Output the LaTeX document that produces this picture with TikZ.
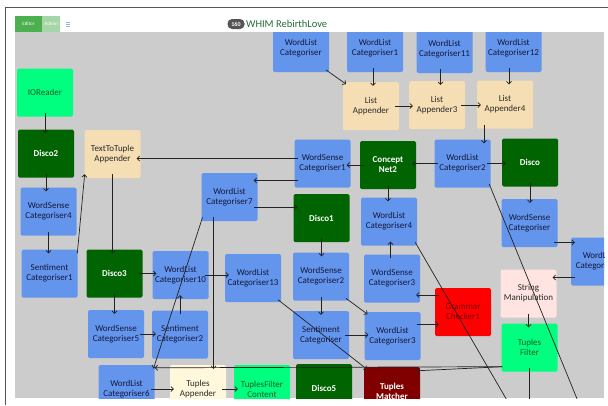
\documentclass[tikz,border=0pt]{standalone}
\usepackage{fontspec}
\setmainfont{Carlito}
\usetikzlibrary{arrows.meta}
\definecolor{canvas}{HTML}{CCCCCC}
\definecolor{wlblue}{HTML}{6495ED}
\definecolor{navytext}{HTML}{14183A}
\definecolor{discogreen}{HTML}{006400}
\definecolor{wheatfill}{HTML}{F5DEB3}
\definecolor{silkfill}{HTML}{FFF8DC}
\definecolor{rosefill}{HTML}{FFE4E1}
\definecolor{springfill}{HTML}{00FF7F}
\definecolor{springtext}{HTML}{145A28}
\definecolor{grammarred}{HTML}{FF0000}
\definecolor{grammartext}{HTML}{7A0000}
\definecolor{matchermaroon}{HTML}{800000}
\definecolor{darktext}{HTML}{2A2A2A}
\definecolor{linecol}{HTML}{222222}
\definecolor{framecol}{HTML}{555555}
\definecolor{editgreen}{HTML}{4CAF50}
\definecolor{admingreen}{HTML}{A5D6A7}
\definecolor{menublue}{HTML}{8DB6E3}
\definecolor{badgegray}{HTML}{555555}
\definecolor{titlegreen}{HTML}{236B36}

\begin{document}
\begin{tikzpicture}[x=1pt,y=-1pt,
  >={Straight Barb[length=2.5pt,width=5pt]},
  box/.style={rectangle,rounded corners=1.5pt,minimum width=56pt,minimum height=48pt,
    align=center,inner sep=1pt,font=\fontsize{9}{10}\selectfont},
  catbox/.style={box,fill=wlblue,text=navytext},
  discobox/.style={box,fill=discogreen,text=white,font=\bfseries\fontsize{9}{10}\selectfont},
  appbox/.style={box,fill=wheatfill,text=darktext},
  filtbox/.style={box,fill=springfill,text=springtext},
  link/.style={->,draw=linecol,line width=0.7pt,shorten <=-4pt,shorten >=-4pt},
  tab/.style={minimum height=16pt,inner sep=0pt,text=white,font=\fontsize{5}{5}\selectfont}]
  \useasboundingbox (0,0) rectangle (608,405);
  % page frame and header bar
  \draw[framecol,line width=1pt] (5.5,405) -- (5.5,7) -- (608,7);
  \node[tab,fill=editgreen,minimum width=27pt]  (edit)  at (28.5,24) {Editor};
  \node[tab,fill=admingreen,minimum width=18pt] (admin) at (51,24) {Admin};
  \foreach \yy in {22,24,26} \draw[menublue,line width=0.8pt] (66,\yy) -- (70,\yy);
  \node[fill=badgegray,text=white,rounded corners=4.5pt,minimum width=17pt,minimum height=10pt,
    inner sep=0pt,font=\bfseries\fontsize{6}{6}\selectfont] (badge) at (236,24) {160};
  \node[anchor=west,inner sep=0pt,text=titlegreen,font=\fontsize{10.5}{11}\selectfont] (title) at (246,24) {WHIM RebirthLove};
  % the grey canvas
  \fill[canvas] (15,32) rectangle (604,398);
  \begin{scope}
  \clip (15,32) rectangle (604,398);
  % top row
  \node[catbox] (WLC)   at (301,48)    {WordList\\Categoriser};
  \node[catbox] (WLC1)  at (375,48)    {WordList\\Categoriser1};
  \node[catbox] (WLC11) at (444.5,49)  {WordList\\Categoriser11};
  \node[catbox] (WLC12) at (513.5,48)  {WordList\\Categoriser12};
  \node[appbox] (LA)    at (371,106)   {List\\Appender};
  \node[appbox] (LA3)   at (437,105)   {List\\Appender3};
  \node[appbox] (LA4)   at (505,104.5) {List\\Appender4};
  % left-hand column
  \node[filtbox]  (IOR)   at (45,92.5)   {IOReader};
  \node[discobox] (Disco2) at (46,153.5) {Disco2};
  \node[appbox]   (TTA)   at (112.5,154) {TextToTuple\\Appender};
  \node[catbox]   (WSC4)  at (48.5,211.5) {WordSense\\Categoriser4};
  \node[catbox]   (SC1)   at (49.5,273.5) {Sentiment\\Categoriser1};
  \node[discobox] (Disco3) at (114.5,273.5) {Disco3};
  \node[catbox]   (WLC10) at (180.5,275) {WordList\\Categoriser10};
  \node[catbox]   (WSC5)  at (116,334)   {WordSense\\Categoriser5};
  \node[catbox]   (SC2)   at (180,334.5) {Sentiment\\Categoriser2};
  % middle part
  \node[catbox]   (WSC1)  at (322.5,163.5) {WordSense\\Categoriser1};
  \node[discobox] (CN2)   at (388,165)   {Concept\\Net2};
  \node[catbox]   (WLC2)  at (462.5,163.5) {WordList\\Categoriser2};
  \node[discobox] (Disco) at (530,162.5) {Disco};
  \node[catbox]   (WLC7)  at (229.5,197) {WordList\\Categoriser7};
  \node[discobox] (Disco1) at (321.5,218) {Disco1};
  \node[catbox]   (WLC4)  at (389,221.5) {WordList\\Categoriser4};
  \node[catbox]   (WSC)   at (529.5,223) {WordSense\\Categoriser};
  \node[catbox]   (WLCr)  at (599,261.5) {WordList\\Categoriser5};
  \node[catbox]   (WLC13) at (253,278)   {WordList\\Categoriser13};
  \node[catbox]   (WSC2)  at (321,276.5) {WordSense\\Categoriser2};
  \node[catbox]   (WSC3)  at (392,278.5) {WordSense\\Categoriser3};
  \node[box,fill=rosefill,text=darktext] (SM) at (528.5,293.5) {String\\Manipulation};
  \node[box,fill=grammarred,text=grammartext] (GC1) at (463,312) {Grammar\\Checker1};
  \node[catbox]   (SC)    at (321,335)   {Sentiment\\Categoriser};
  \node[catbox]   (WLC3)  at (392.5,336) {WordList\\Categoriser3};
  \node[filtbox]  (TF)    at (529.5,347.5) {Tuples\\Filter};
  % bottom row
  \node[catbox]   (WLC6)  at (126.5,389) {WordList\\Categoriser6};
  \node[box,fill=silkfill,text=darktext] (TA) at (198,389) {Tuples\\Appender};
  \node[filtbox]  (TFC)   at (262,389)   {TuplesFilter\\Content};
  \node[discobox] (Disco5) at (324,388)  {Disco5};
  \node[box,fill=matchermaroon,text=white,font=\bfseries\fontsize{9}{10}\selectfont] (TM) at (392,391) {Tuples\\Matcher};
  % ends below the canvas
  \coordinate (offA) at (591,433);
  \coordinate (offB) at (526,433);
  % connectors
  \draw[link] (WLC.south east) -- (LA.north west);
  \draw[link] ([xshift=-2pt]WLC1.south) -- ([xshift=-2pt]WLC1.south |- LA.north);
  \draw[link] ([xshift=-4pt]WLC11.south) -- ([xshift=-4pt]WLC11.south |- LA3.north);
  \draw[link] ([xshift=-4.5pt]WLC12.south) -- ([xshift=-4.5pt]WLC12.south |- LA4.north);
  \draw[link] (LA.east) -- (LA.east -| LA3.west);
  \draw[link] (LA3.east) -- (LA3.east -| LA4.west);
  \draw[link] ([xshift=-21pt]LA4.south) -- ([xshift=-21pt]LA4.south |- WLC2.north);
  \draw[link] (WLC2.west) -- (WLC2.west -| CN2.east);
  \draw[link] (WLC2.east) -- (WLC2.east -| Disco.west);
  \draw[link] (Disco.south) -- (Disco.south |- WSC.north);
  \draw[link] ([yshift=-19.5pt]WSC.east) -- ([yshift=-19.5pt]WSC.east -| WLCr.west);
  \draw[link] ([yshift=-16pt]WLCr.west) -- ([yshift=-16pt]WLCr.west -| SM.east);
  \draw[link] (SM.south) -- (SM.south |- TF.north);
  \draw[link,shorten <=0pt,shorten >=0pt] ([shift={(1pt,5pt)}]TF.south west) -- ([shift={(-4pt,-4pt)}]TM.north east);
  \draw[link,shorten <=0pt,shorten >=0pt] ([shift={(1pt,5pt)}]TF.south west) -- ([yshift=-3pt]WLC6.north east);
  \draw[link] (TF.south) -- (TF.south |- offA);
  \draw[link] (WLC2.south east) -- (offA);
  \draw[link] (WLC4.south east) -- (offB);
  \draw[link] (CN2.west) -- (CN2.west -| WSC1.east);
  \draw[link] ([yshift=5pt]WSC1.west) -- ([yshift=5pt]WSC1.west -| TTA.east);
  \draw[link] ([yshift=-17pt]WSC1.west) -- ([yshift=-17pt]WSC1.west -| WLC7.east);
  \draw[link] ([yshift=-10.5pt]WLC7.east) -- ([yshift=-10.5pt]WLC7.east -| Disco1.west);
  \draw[link] (WLC7.south west) -- (WLC6.north east);
  \draw[link] ([xshift=-16pt]WLC7.south) -- ([xshift=-16pt]WLC7.south |- TA.north);
  \draw[link] (CN2.south) -- (CN2.south |- WLC4.north);
  \draw[link] (Disco1.south) -- (Disco1.south |- WSC2.north);
  \draw[link] ([xshift=-1.5pt]WSC3.north) -- ([xshift=-1.5pt]WSC3.north |- WLC4.south);
  \draw[link] ([yshift=17pt]GC1.west) -- ([yshift=17pt]GC1.west -| WSC3.east);
  \draw[link] ([yshift=11.5pt]WLC3.east) -- ([yshift=11.5pt]WLC3.east -| GC1.west);
  \draw[link] (WSC2.south) -- (WSC2.south |- SC.north);
  \draw[link] (WSC2.south east) -- (WLC3.north west);
  \draw[link] (SC.east) -- (SC.east -| WLC3.west);
  \draw[link] (WLC13.south east) -- (TM.north west);
  \draw[link] (WLC10.east) -- (WLC10.east -| WLC13.west);
  \draw[link] (Disco3.east) -- (Disco3.east -| WLC10.west);
  \draw[link] (Disco3.south) -- (Disco3.south |- WSC5.north);
  \draw[link] (WSC5.east) -- (WSC5.east -| SC2.west);
  \draw[link] (SC2.north) -- (SC2.north |- WLC10.south);
  \draw[link] (SC1.north east) -- (TTA.south west);
  \draw[link] (TTA.south) -- (TTA.south |- Disco3.north);
  \draw[link] (IOR.south) -- (IOR.south |- Disco2.north);
  \draw[link] (Disco2.south) -- (Disco2.south |- WSC4.north);
  \draw[link] (WSC4.south) -- (WSC4.south |- SC1.north);
  \draw[link] (WLC6.east) -- (WLC6.east -| TA.west);
  \draw[link] (TA.east) -- (TA.east -| TFC.west);
  \end{scope}
\end{tikzpicture}
\end{document}
